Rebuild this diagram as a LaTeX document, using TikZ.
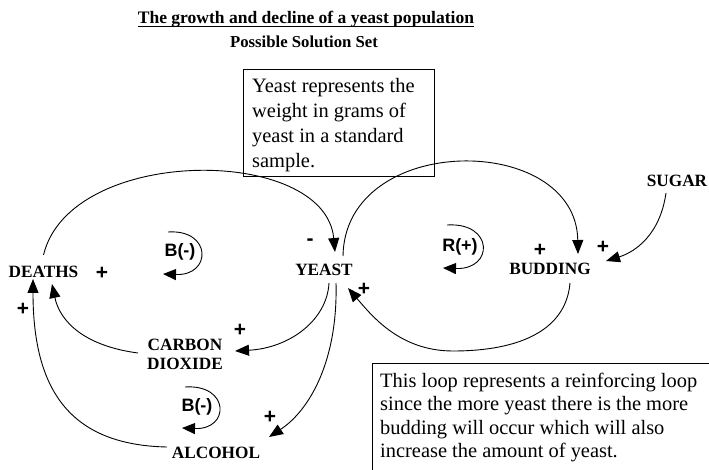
\documentclass[tikz,border=0pt]{standalone}
\usepackage{fontspec}
\setmainfont{Liberation Serif}
\newfontfamily\signfont{Liberation Sans}
\usetikzlibrary{arrows.meta}

\begin{document}
\begin{tikzpicture}[x=1bp,y=-1bp,
  var/.style={font=\bfseries\fontsize{17.3}{19.5}\selectfont, inner sep=0pt, align=center},
  link/.style={line width=0.9bp, -{Triangle[length=14bp,width=11bp]}},
  pol/.style={font=\signfont\bfseries\fontsize{21}{21}\selectfont, inner sep=0pt},
  looplabel/.style={font=\signfont\bfseries\fontsize{18}{18}\selectfont, inner sep=0pt},
  loopmark/.style={line width=0.9bp, -{Triangle[length=13bp,width=11bp]}},
  note/.style={align=left, inner sep=0pt, anchor=north west},
  frame/.style={line width=0.9bp}
]
\useasboundingbox (0,0) rectangle (709,470);

% headings
\node[font=\bfseries\fontsize{17.6}{17.6}\selectfont, inner sep=0pt, anchor=base] (title) at (306,24)
  {The growth and decline of a yeast population};
\draw[line width=1bp] ([yshift=-3bp]title.base west) -- ([yshift=-3bp]title.base east);
\node[font=\bfseries\fontsize{16.8}{16.8}\selectfont, inner sep=0pt, anchor=base] (subtitle) at (304,48)
  {Possible Solution Set};

% explanatory notes
\draw[frame] (243,69) rectangle (434,176);
\node[note, font=\fontsize{20.5}{25}\selectfont] (note1) at (252,78)
  {Yeast represents the\\weight in grams of\\yeast in a standard\\sample.};
\draw[frame] (709,363) -| (372,470);
\node[note, font=\fontsize{20.5}{23.3}\selectfont] (note2) at (380,373)
  {This loop represents a reinforcing loop\\since the more yeast there is the more\\budding will occur which will also\\increase the amount of yeast.};

% variables
\node[var] (deaths)  at (43.5,272) {DEATHS};
\node[var] (yeast)   at (324,270)  {YEAST};
\node[var] (budding) at (550,269)  {BUDDING};
\node[var] (sugar)   at (677,181)  {SUGAR};
\node[var] (co2)     at (185,354.5) {CARBON\\DIOXIDE};
\node[var] (alcohol) at (216,453)  {ALCOHOL};

% causal links
\draw[link] ([shift={(0,-17)}]deaths.center)
  .. controls (70,145) and (325,145) .. ([shift={(11,-18)}]yeast.center);
\draw[link] ([shift={(19,-14)}]yeast.center)
  .. controls (345,132) and (576,132) .. ([shift={(28,-15)}]budding.center);
\draw[link] ([shift={(20,14)}]budding.center)
  .. controls (566,330) and (520,351) .. (453,351)
  .. controls (400,351) and (372,316) .. ([shift={(24,18)}]yeast.center);
\draw[link] ([shift={(5,13)}]yeast.center)
  .. controls (327,320) and (290,348) .. ([shift={(50,-3.5)}]co2.center);
\draw[link] ([shift={(12,13)}]yeast.center)
  .. controls (338,360) and (310,410) .. ([shift={(53,-16)}]alcohol.center);
\draw[link] ([shift={(-47,-1.5)}]co2.center)
  .. controls (85,346) and (60,322) .. ([shift={(8.5,12)}]deaths.center);
\draw[link] ([shift={(-49,-6)}]alcohol.center)
  .. controls (70,445) and (33,390) .. ([shift={(-10.5,7)}]deaths.center);
\draw[link] ([shift={(-11,12)}]sugar.center)
  .. controls (660,235) and (635,252) .. ([shift={(56,-8)}]budding.center);

% link polarities
\node[pol] (pminus) at (310,242) {-};
\node[pol] (pbud)   at (540,250) {+};
\node[pol] (psugar) at (603,247) {+};
\node[pol] (pyeast) at (364,289) {+};
\node[pol] (pco2)   at (240,330) {+};
\node[pol] (palc)   at (270,417) {+};
\node[pol] (pdco2)  at (102,273) {+};
\node[pol] (pdalc)  at (23,309)  {+};

% loop markers
\node[looplabel] (bloop1) at (180,252) {B(-)};
\draw[loopmark] (168,232) .. controls (212,229) and (212,276) .. (163,274);
\node[looplabel] (rloop) at (460,247) {R(+)};
\draw[loopmark] (447,225) .. controls (494,222) and (494,270) .. (443,268);
\node[looplabel] (bloop2) at (197,407) {B(-)};
\draw[loopmark] (185,387) .. controls (230,384) and (230,430) .. (182,428);
\end{tikzpicture}
\end{document}
